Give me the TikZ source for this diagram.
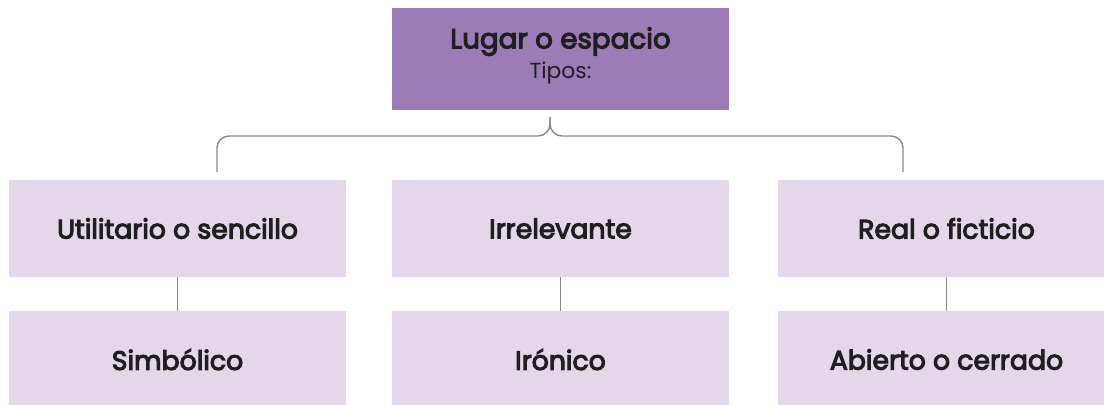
\documentclass[tikz,border=0pt]{standalone}
\usepackage{fontspec}
\setmainfont{Poppins}
\newfontfamily\medfont{Poppins}[FakeBold=4]
\usepackage{xcolor}
\usetikzlibrary{positioning}
\definecolor{lilac}{HTML}{9D7BB7}
\definecolor{paleLilac}{HTML}{E3D7E9}
\definecolor{linkGray}{HTML}{8A8A8A}

\begin{document}
\begin{tikzpicture}[
  x=0.025cm,y=-0.025cm,
  head/.style={fill=lilac,minimum width=8.425cm,minimum height=2.55cm,
               align=center,inner sep=0pt,text=black!88,text depth=9pt},
  kind/.style={fill=paleLilac,minimum width=8.425cm,minimum height=2.425cm,
               align=center,inner sep=0pt,text=black!88,
               font=\fontsize{19}{22}\medfont},
  link/.style={draw=linkGray,line width=1pt},
  brace/.style={link,rounded corners=0.3cm}
]
\useasboundingbox (0,0) rectangle (1104,404);
\clip (0,0) rectangle (1104,404);

\node[head] (place) at (560.5,59) {%
  {\fontsize{19.7}{22}\medfont Lugar o espacio}\\[3pt]
  {\fontsize{15.5}{17}\selectfont Tipos:}};

\node[kind] (util) at (177.5,228.5) {Utilitario o sencillo};
\node[kind] (irrel) at (560.5,228.5) {Irrelevante};
\node[kind] (real) at (946.5,228.5) {Real o ficticio};
\node[kind] (symb) at (177.5,359.5) {Simbólico};
\node[kind] (iron) at (560.5,359.5) {Irónico};
\node[kind] (open) at (946.5,359.5) {Abierto o cerrado};

% brace under the heading
\coordinate (tip) at (550,117);
\coordinate (hub) at (550,136);
\coordinate (lend) at (217,172);
\coordinate (rend) at (903,172);
\draw[brace] (lend) -- (lend |- hub) -- (hub) -- (tip);
\draw[brace] (rend) -- (rend |- hub) -- (hub) -- (tip);

\draw[link] (util) -- (symb);
\draw[link] (irrel) -- (iron);
\draw[link] (real) -- (open);
\end{tikzpicture}
\end{document}
